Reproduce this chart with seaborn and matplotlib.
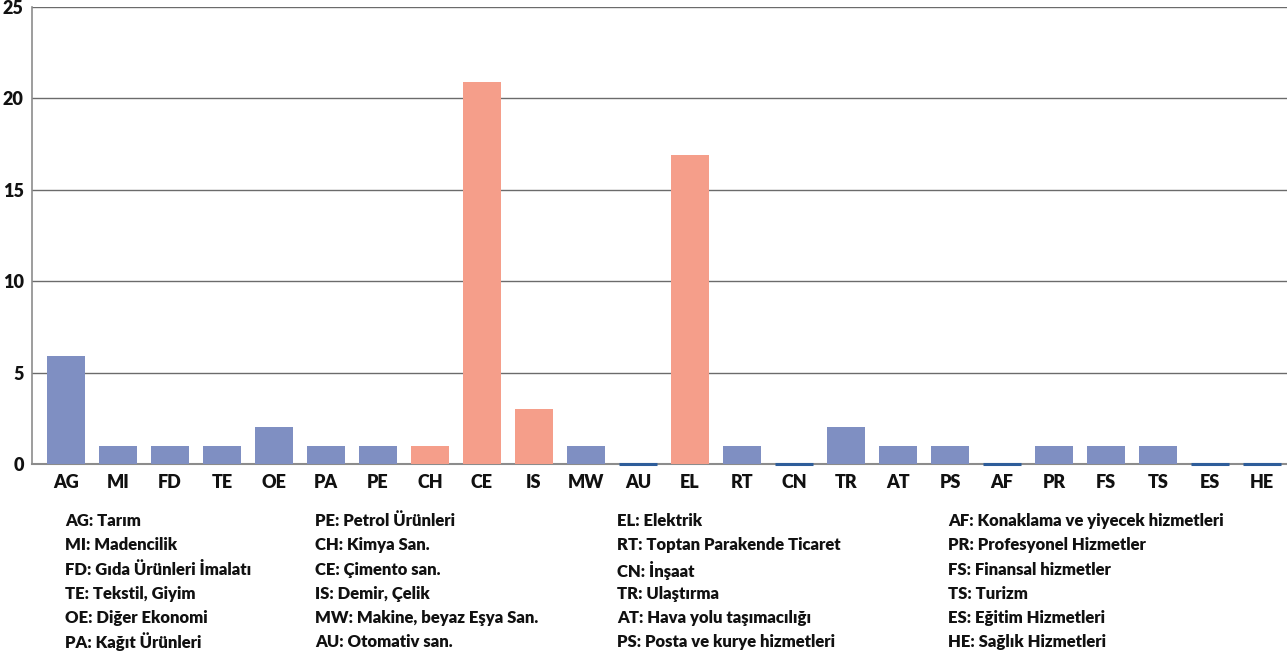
import matplotlib
matplotlib.use("Agg")
import pandas as pd
import matplotlib.pyplot as plt
import seaborn as sns

codes = ["AG", "MI", "FD", "TE", "OE", "PA", "PE", "CH", "CE", "IS", "MW", "AU",
         "EL", "RT", "CN", "TR", "AT", "PS", "AF", "PR", "FS", "TS", "ES", "HE"]
values = [5.9, 1, 1, 1, 2, 1, 1, 1, 20.9, 3, 1, 0,
          16.9, 1, 0, 2, 1, 1, 0, 1, 1, 1, 0, 0]
highlight = ["CH", "CE", "IS", "EL"]
names = ["Tarım", "Madencilik", "Gıda Ürünleri İmalatı", "Tekstil, Giyim",
         "Diğer Ekonomi", "Kağıt Ürünleri", "Petrol Ürünleri", "Kimya San.",
         "Çimento san.", "Demir, Çelik", "Makine, beyaz Eşya San.", "Otomativ san.",
         "Elektrik", "Toptan Parakende Ticaret", "İnşaat", "Ulaştırma",
         "Hava yolu taşımacılığı", "Posta ve kurye hizmetleri",
         "Konaklama ve yiyecek hizmetleri", "Profesyonel Hizmetler",
         "Finansal hizmetler", "Turizm", "Eğitim Hizmetleri", "Sağlık Hizmetleri"]

df = pd.DataFrame({"code": codes, "value": values})
df["group"] = ["hi" if c in highlight else "lo" for c in codes]

sns.set_style("white")
plt.rcParams["font.family"] = ["Lato", "DejaVu Sans"]
plt.rcParams["font.weight"] = 800

fig = plt.figure(figsize=(12.87, 6.55), dpi=100)
ax = fig.add_axes([0.0249, 0.2916, 0.9751, 0.6977])

sns.barplot(data=df, x="code", y="value", hue="group",
            palette={"lo": "#7f8fc2", "hi": "#f59e8a"}, saturation=1,
            width=0.73, dodge=False, legend=False, ax=ax, zorder=3,
            linewidth=0)

# zero values shown as a thin dark line on the axis
for i, v in enumerate(values):
    if v == 0:
        ax.hlines(0, i - 0.365, i + 0.365, color="#2e5d9a", lw=2.2,
                  zorder=5, clip_on=False)

ax.set_ylim(0, 25)
ax.set_xlim(-0.65, len(codes) - 0.52)
ax.set_yticks([0, 5, 10, 15, 20, 25])
ax.yaxis.grid(True, color="#6b6b6b", lw=1)
ax.set_axisbelow(True)
ax.set_xlabel("")
ax.set_ylabel("")
for s in ["top", "right"]:
    ax.spines[s].set_visible(False)
ax.spines["left"].set_color("#8c8c8c")
ax.spines["bottom"].set_color("#8c8c8c")
ax.spines["left"].set_linewidth(1.2)
ax.spines["bottom"].set_linewidth(1.5)
ax.tick_params(axis="both", length=0, labelsize=13, colors="#111111")
ax.tick_params(axis="x", pad=7)
ax.tick_params(axis="y", pad=6)
for lab in ax.get_xticklabels() + ax.get_yticklabels():
    lab.set_fontweight(800)

# legend text in four columns
col_x = [65, 315, 617, 948]
row_y = [521, 545, 570, 594, 618, 642]
for k, (c, n) in enumerate(zip(codes, names)):
    col, row = divmod(k, 6)
    fig.text(col_x[col] / 1287, 1 - row_y[row] / 655, f"{c}: {n}",
             fontsize=12, fontweight=800, color="#111111",
             ha="left", va="center")

fig.savefig("out.png", dpi=100)
